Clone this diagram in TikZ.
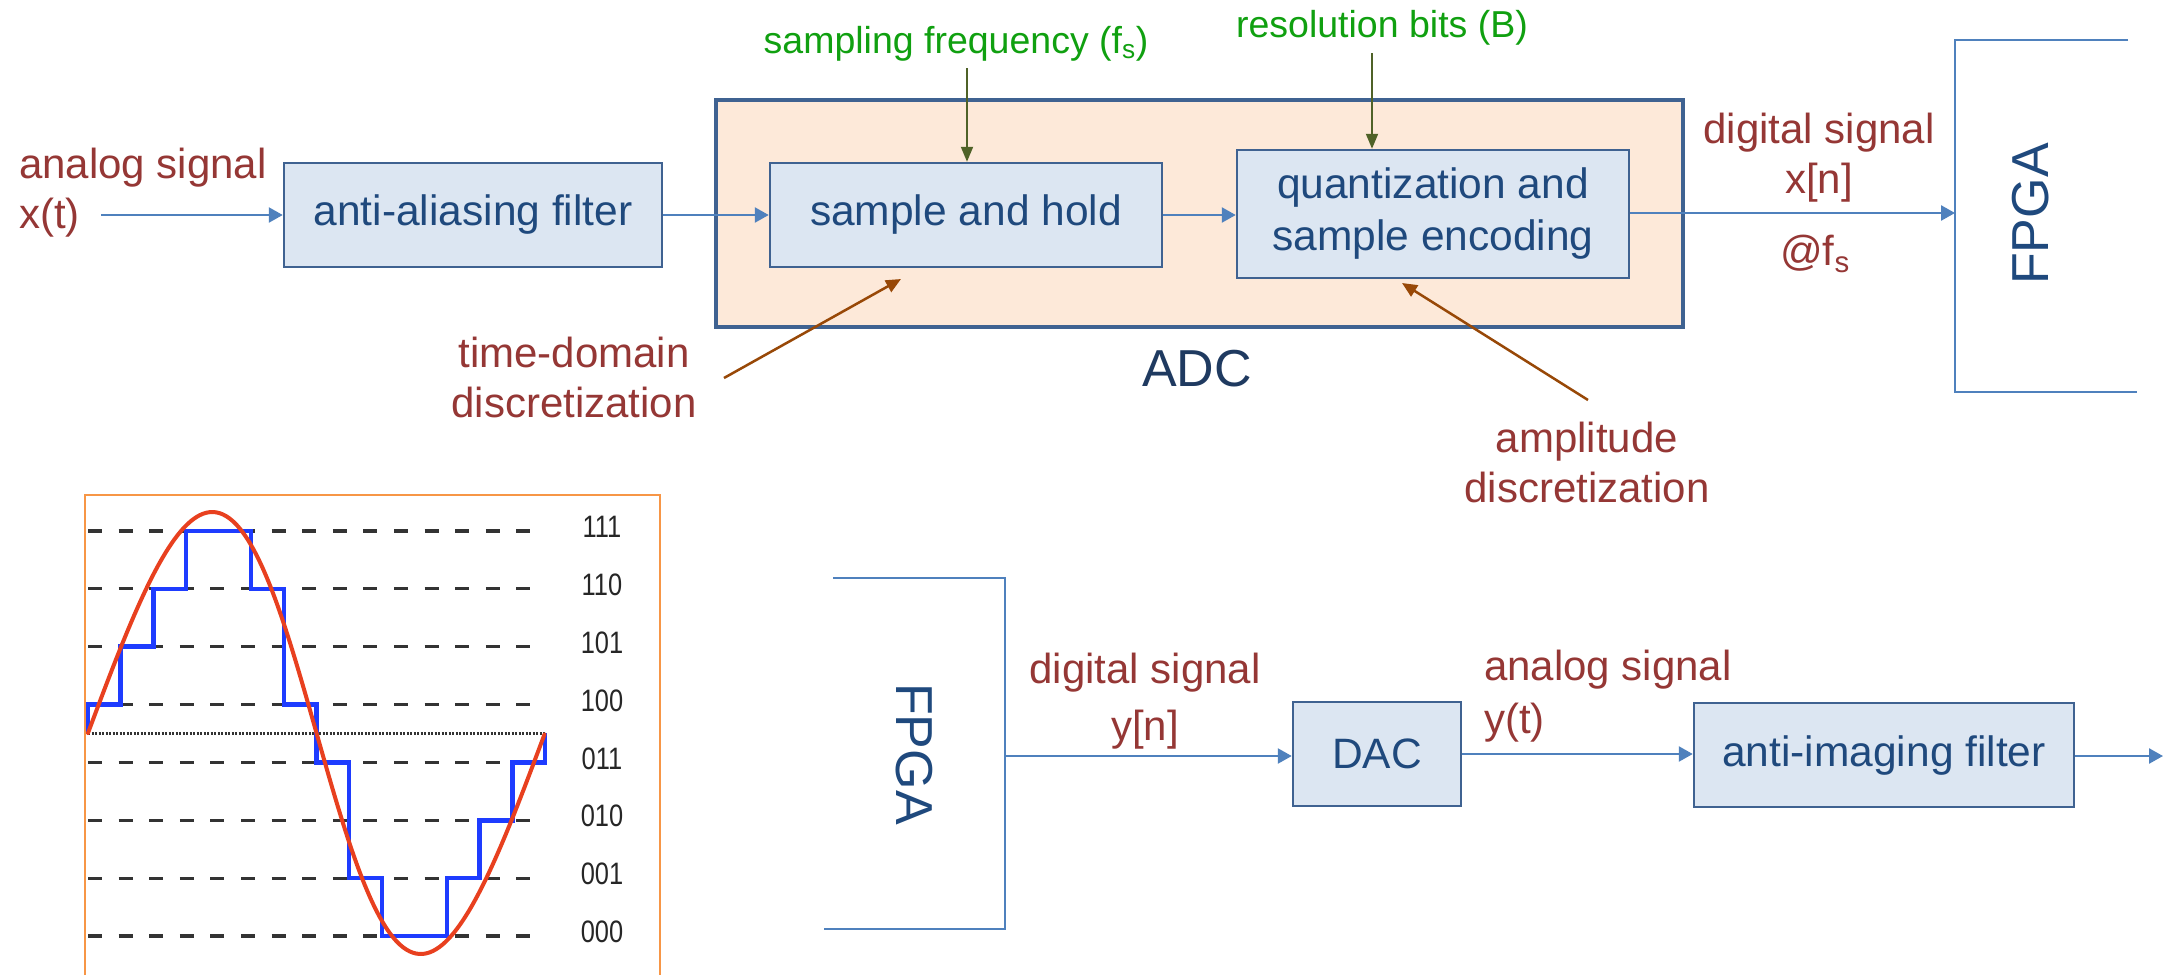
\documentclass[tikz,border=0pt]{standalone}
\usepackage{fontspec}
\setmainfont{Liberation Sans}
\usetikzlibrary{arrows.meta}
\definecolor{boxfill}{HTML}{DCE6F2}
\definecolor{boxdraw}{HTML}{3F6291}
\definecolor{boxtext}{HTML}{1F497D}
\definecolor{adcfill}{HTML}{FDE9D9}
\definecolor{adctext}{HTML}{1F3A60}
\definecolor{arrowblue}{HTML}{4F81BD}
\definecolor{redtext}{HTML}{953735}
\definecolor{greentext}{HTML}{10A010}
\definecolor{greenarrow}{HTML}{4F6228}
\definecolor{brownarrow}{HTML}{984807}
\definecolor{frameorange}{HTML}{F79646}
\definecolor{sinered}{HTML}{E8401F}
\definecolor{stairblue}{HTML}{1E3CFF}
\definecolor{dashgray}{HTML}{333333}
\begin{document}
\begin{tikzpicture}[x=1pt,y=-1pt,
  blk/.style={draw=boxdraw, line width=2.5pt, fill=boxfill, text=boxtext,
    font=\fontsize{42.5}{52}\selectfont, inner sep=0pt, align=center},
  sig/.style={draw=arrowblue, line width=2.5pt, -{Triangle[length=14pt,width=15pt]}},
  garr/.style={draw=greenarrow, line width=2pt, -{Triangle[length=15pt,width=12pt]}},
  barr/.style={draw=brownarrow, line width=2.5pt, -{Triangle[length=15pt,width=13pt]}},
  lbl/.style={text=redtext, font=\fontsize{42}{50}\selectfont, inner sep=0pt},
  glbl/.style={text=greentext, font=\fontsize{37.5}{44}\selectfont, inner sep=0pt},
  big/.style={font=\fontsize{52}{60}\selectfont, inner sep=0pt},
  fpgaline/.style={draw=arrowblue, line width=2pt},
  lvl/.style={text=black!85, font=\fontsize{31}{34}\selectfont, inner sep=0pt},
  dline/.style={draw=dashgray, line width=3.2pt, dash pattern=on 14pt off 16.6pt},
]
\useasboundingbox (0,0) rectangle (2163,975);
\fill[white] (0,0) rectangle (2163,975);

% ---------- ADC chain ----------
\node[draw=boxdraw, line width=4pt, fill=adcfill, minimum width=967pt, minimum height=227pt, inner sep=0pt] (adc) at (1199.5,213.5) {};
\node[blk, minimum width=378pt, minimum height=104pt] (aa) at (473,215) {anti-aliasing filter};
\node[blk, minimum width=392pt, minimum height=104pt] (sh) at (966,215) {sample and hold};
\node[blk, minimum width=392pt, minimum height=128pt] (qe) at (1433,214) {quantization and\\sample encoding};
\node[big, text=adctext, anchor=base] (adclbl) at (1197,386) {ADC};

\coordinate (in) at (101,215);
\coordinate (fpgain) at (1955,213);
\draw[sig] (in) -- (aa.west);
\draw[sig] (aa.east) -- (sh.west);
\draw[sig] (sh.east) -- (sh.east -| qe.west);
\draw[sig] (qe.east |- fpgain) -- (fpgain);

% inputs from above
\node[glbl, anchor=base] (sflbl) at (956,53) {sampling frequency (f\textsubscript{s})};
\node[glbl, anchor=base] (rblbl) at (1382,37) {resolution bits (B)};
\coordinate (sf) at (967,68);
\coordinate (rb) at (1372,53);
\draw[garr] (sf) -- (sf |- sh.north);
\draw[garr] (rb) -- (rb |- qe.north);

% annotations
\node[lbl, anchor=base west] (as1) at (19,178) {analog signal};
\node[lbl, anchor=base west] (as2) at (19,228) {x(t)};
\node[lbl, anchor=base] (td1) at (574,367) {time-domain};
\node[lbl, anchor=base] (td2) at (574,417) {discretization};
\node[lbl, anchor=base] (ad1) at (1587,452) {amplitude};
\node[lbl, anchor=base] (ad2) at (1587,502) {discretization};
\coordinate (td) at (724,378);
\coordinate (tdtip) at (901,279);
\coordinate (ad) at (1588,400);
\coordinate (adtip) at (1402,283);
\draw[barr] (td) -- (tdtip);
\draw[barr] (ad) -- (adtip);

\node[lbl, anchor=base] (ds1) at (1819,143) {digital signal};
\node[lbl, anchor=base] (ds2) at (1819,193) {x[n]};
\node[lbl, anchor=base] (ds3) at (1815,265) {@f\textsubscript{s}};

% FPGA (top)
\draw[fpgaline] (2128,40) -- (1955,40) -- (1955,392) -- (2137,392);
\node[big, text=boxtext, rotate=90] (fpga1) at (2031,214) {FPGA};

% ---------- DAC chain ----------
\draw[fpgaline] (833,578) -- (1005,578) -- (1005,929) -- (824,929);
\node[big, text=boxtext, rotate=-90] (fpga2) at (914,754) {FPGA};
\node[blk, minimum width=168pt, minimum height=104pt] (dac) at (1377,754) {DAC};
\node[blk, minimum width=380pt, minimum height=104pt] (ai) at (1884,755) {anti-imaging filter};
\coordinate (fout) at (1005,756);
\coordinate (out) at (2163,756);
\draw[sig] (fout) -- (fout -| dac.west);
\draw[sig] (dac.east) -- (dac.east -| ai.west);
\draw[sig] (ai.east |- out) -- (out);

\node[lbl, anchor=base] (dy1) at (1145,683) {digital signal};
\node[lbl, anchor=base] (dy2) at (1145,740) {y[n]};
\node[lbl, anchor=base west] (ay1) at (1484,680) {analog signal};
\node[lbl, anchor=base west] (ay2) at (1484,733) {y(t)};

% ---------- quantization plot ----------
\draw[draw=frameorange, line width=2pt] (85,975) -- (85,495) -- (660,495) -- (660,975);
\foreach \k/\code in {0/000,1/001,2/010,3/011,4/100,5/101,6/110,7/111}{
  \draw[dline] (88,{936-57.857*\k}) -- (530,{936-57.857*\k});
  \node[lvl] at (602,{932-57.857*\k}) {\scalebox{0.82}[1]{\code}};
}
\draw[draw=black!80, line width=3pt, dash pattern=on 2pt off 1.5pt] (88,733) -- (545,733);
\draw[stairblue, line width=4.5pt, line join=miter]
  (88,733) -- (88,704.6) -- (120.6,704.6) -- (120.6,646.7) -- (153.3,646.7) -- (153.3,588.9)
  -- (185.9,588.9) -- (185.9,531) -- (251.2,531) -- (251.2,588.9) -- (283.9,588.9)
  -- (283.9,704.6) -- (316.5,704.6) -- (316.5,762.4) -- (349.1,762.4) -- (349.1,878.1)
  -- (381.8,878.1) -- (381.8,936) -- (447,936) -- (447,878.1) -- (479.7,878.1)
  -- (479.7,820.3) -- (512.3,820.3) -- (512.3,762.4) -- (545,762.4) -- (545,733);
\draw[sinered, line width=4pt, line cap=round]
  plot[domain=0:1, samples=140, smooth] ({88+457*\x+10*sin(360*\x)},{733-221*sin(360*\x)});
\end{tikzpicture}
\end{document}
